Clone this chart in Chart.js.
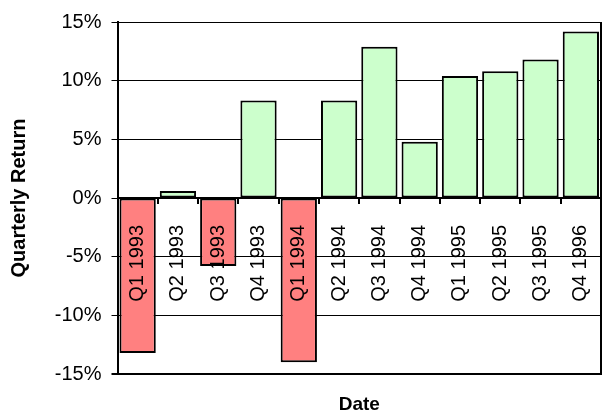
<!DOCTYPE html>
<html>
<head>
<meta charset="utf-8">
<script src="https://cdn.jsdelivr.net/npm/chart.js@4/dist/chart.umd.min.js"></script>
<style>
  html, body { margin: 0; padding: 0; background: #ffffff; }
  canvas { display: block; }
</style>
</head>
<body>
<canvas id="chart" width="602" height="412"></canvas>
<script>
// Quarter names shown along the zero line
const quarters = [
  'Q1 1993', 'Q2 1993', 'Q3 1993', 'Q4 1993',
  'Q1 1994', 'Q2 1994', 'Q3 1994', 'Q4 1994',
  'Q1 1995', 'Q2 1995', 'Q3 1995', 'Q4 1996'
];

// Quarterly return for each quarter, in percent
const quarterlyReturns = [
  -13.2, 0.6, -5.8, 8.3,
  -14.0, 8.3, 12.9, 4.8,
  10.4, 10.8, 11.8, 14.2
];

// Value axis tick values, in percent
const returnTicks = [-15, -10, -5, 0, 5, 10, 15];

const FONT = "'Liberation Sans', Arial, Helvetica, sans-serif";
const GAIN_FILL = '#ccffcc';
const LOSS_FILL = '#ff8080';

// Closes the plot frame on the right side
const plotFrame = {
  id: 'plotFrame',
  afterDraw(chart) {
    const { ctx, chartArea: a } = chart;
    ctx.save();
    ctx.strokeStyle = '#000';
    ctx.lineWidth = 2;
    ctx.beginPath();
    ctx.moveTo(a.right, a.top);
    ctx.lineTo(a.right, a.bottom + 1);
    ctx.stroke();
    ctx.restore();
  }
};

new Chart(document.getElementById('chart'), {
  type: 'bar',
  data: {
    labels: quarters,
    datasets: [{
      data: quarterlyReturns,
      backgroundColor: (c) => (c.raw < 0 ? LOSS_FILL : GAIN_FILL),
      borderColor: '#000',
      borderWidth: 2,
      borderSkipped: false,
      barPercentage: 0.9,
      categoryPercentage: 1.0
    }]
  },
  options: {
    responsive: false,
    animation: false,
    devicePixelRatio: 1,
    layout: { padding: { left: 5, top: 20, right: 1, bottom: 0 } },
    plugins: {
      legend: { display: false },
      tooltip: { enabled: false }
    },
    scales: {
      y: {
        position: 'left',
        min: returnTicks[0],
        max: returnTicks[returnTicks.length - 1],
        afterBuildTicks: (s) => { s.ticks = returnTicks.map((v) => ({ value: v })); },
        afterFit: (s) => { s.width = 112.5; },
        ticks: {
          callback: (v) => v + '%',
          color: '#000',
          padding: 10,
          font: { family: FONT, size: 20 }
        },
        grid: {
          color: '#000',
          lineWidth: (c) => (c.tick && c.tick.value === returnTicks[0] ? 2 : 1),
          tickLength: 6,
          tickColor: '#000'
        },
        border: { display: true, color: '#000', width: 2 },
        title: {
          display: true,
          text: 'Quarterly Return',
          color: '#000',
          padding: { top: 4, bottom: 0 },
          font: { family: FONT, size: 20, weight: 'bold', lineHeight: 1 }
        }
      },
      x: {
        type: 'category',
        position: { y: 0 },
        offset: true,
        afterFit: (s) => { s.paddingLeft = 0; s.paddingRight = 0; },
        grid: {
          offset: true,
          drawOnChartArea: false,
          tickLength: 5,
          tickColor: '#000',
          lineWidth: 2
        },
        border: { display: true, color: '#000', width: 2, z: 1 },
        ticks: {
          autoSkip: false,
          minRotation: 90,
          maxRotation: 90,
          padding: 22,
          color: '#000',
          z: 2,
          font: { family: FONT, size: 20 }
        }
      },
      x2: {
        type: 'category',
        position: 'bottom',
        afterFit: (s) => { s.height = 38; s.paddingLeft = 0; s.paddingRight = 0; },
        ticks: { display: false },
        grid: { display: false, drawTicks: false },
        border: { display: false },
        title: {
          display: true,
          text: 'Date',
          color: '#000',
          padding: { top: 0, bottom: -2 },
          font: { family: FONT, size: 19, weight: 'bold', lineHeight: 1 }
        }
      }
    }
  },
  plugins: [plotFrame]
});
</script>
</body>
</html>
